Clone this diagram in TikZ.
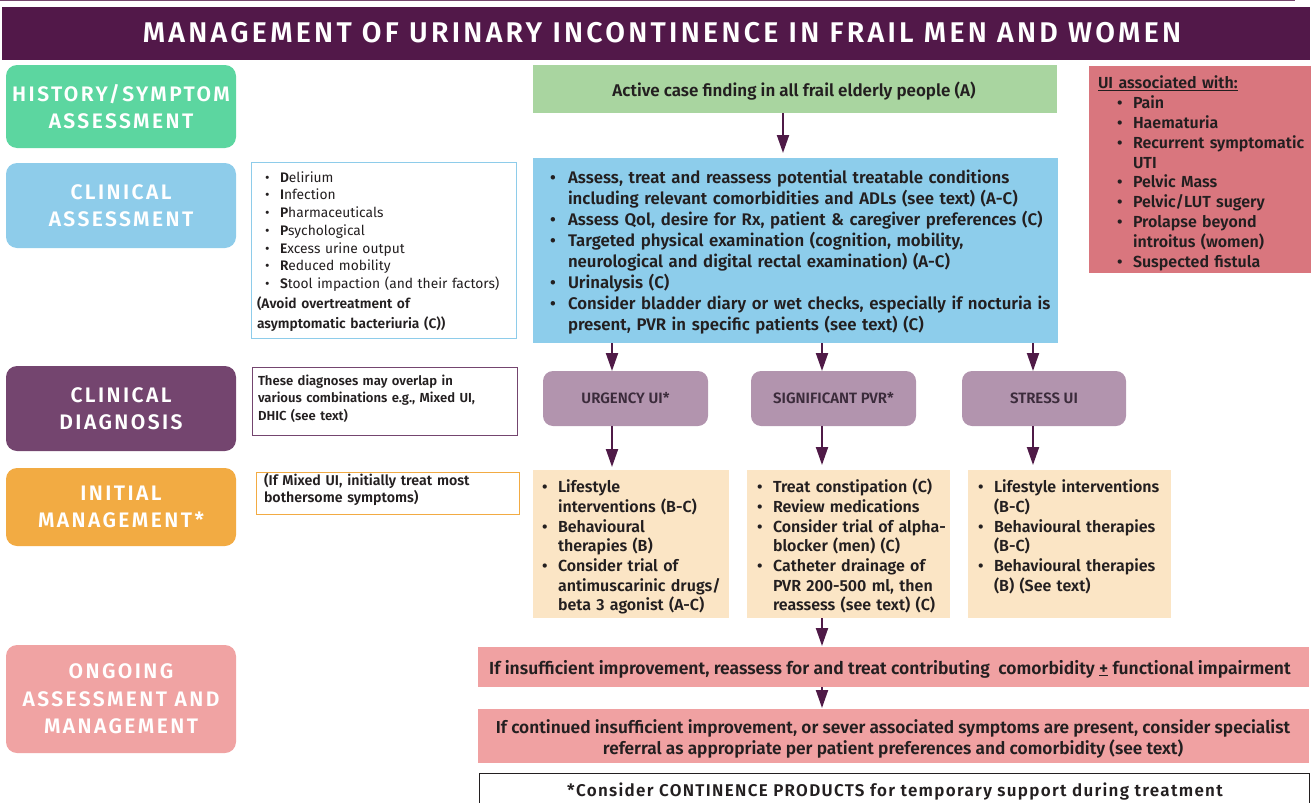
\documentclass[tikz,border=0pt]{standalone}
\usepackage{fontspec}
\setmainfont{Fira Sans}[BoldFont={Fira Sans SemiBold}]
\newfontfamily\trackT{Fira Sans}[BoldFont={Fira Sans SemiBold},LetterSpace=11.5]
\newfontfamily\trackL{Fira Sans}[BoldFont={Fira Sans SemiBold},LetterSpace=11.5]
\newfontfamily\trackF{Fira Sans}[BoldFont={Fira Sans SemiBold},LetterSpace=7.7]
\usetikzlibrary{arrows.meta}
\definecolor{titlec}{HTML}{521849}
\definecolor{histc}{HTML}{5CD6A0}
\definecolor{clinac}{HTML}{8ECCEA}
\definecolor{clindc}{HTML}{74456F}
\definecolor{initc}{HTML}{F2AB43}
\definecolor{ongoc}{HTML}{F0A3A3}
\definecolor{greenc}{HTML}{A9D5A0}
\definecolor{bluec}{HTML}{8DCDEB}
\definecolor{pinkrc}{HTML}{D9767E}
\definecolor{diagc}{HTML}{B294AE}
\definecolor{beigec}{HTML}{FBE5C5}
\definecolor{rowc}{HTML}{F0A1A2}
\definecolor{txtc}{HTML}{231F20}
\definecolor{diagtxt}{HTML}{3B2B3B}
\definecolor{arrc}{HTML}{4F1A47}
\newlength{\bulw}
\newenvironment{blist}[2]{\begin{list}{\textbullet}{\settowidth{\bulw}{\textbullet}%
  \setlength{\labelwidth}{\bulw}\setlength{\leftmargin}{#2}%
  \setlength{\labelsep}{\dimexpr #2-#1-\bulw\relax}%
  \setlength{\itemsep}{0pt}\setlength{\parsep}{0pt}\setlength{\topsep}{0pt}%
  \setlength{\partopsep}{0pt}\setlength{\itemindent}{0pt}\setlength{\rightmargin}{0pt}}}{\end{list}}
\tikzset{
  box/.style={inner sep=0pt, outer sep=0pt},
  label/.style={box, rounded corners=11pt, text=white, align=center,
    minimum width=230pt, font=\trackL\bfseries\fontsize{21}{27.5}\selectfont},
  diag/.style={box, fill=diagc, rounded corners=10pt, minimum width=165pt, minimum height=55pt,
    text=diagtxt, font=\bfseries\fontsize{15}{17}\selectfont},
  beige/.style={box, fill=beigec, minimum height=148pt},
  row/.style={box, fill=rowc, minimum width=831pt},
  rowtxt/.style={box, text=txtc, align=center},
  listtxt/.style={inner sep=0pt, outer sep=0pt, anchor=north west, text=txtc},
  arr/.style={draw=arrc, line width=2pt, -{Triangle[length=18pt,width=12pt]}},
}
\begin{document}
\begin{tikzpicture}[x=1pt,y=-1pt]
\useasboundingbox (0,0) rectangle (1312,803);
% title
\draw[titlec!80, line width=1.3pt] (0,0.7) -- (1295,0.7);
\node[box, fill=titlec, minimum width=1308pt, minimum height=53pt] (bar) at (656,33.5) {};
\node[box, text=white, font=\trackT\bfseries\fontsize{28.5}{30}\selectfont] (title) at (662,33)
  {MANAGEMENT OF URINARY INCONTINENCE IN FRAIL MEN AND WOMEN};
% left labels
\node[label, fill=histc, minimum height=83pt] (hist) at (121,106.5) {HISTORY/SYMPTOM\\ASSESSMENT};
\node[label, fill=clinac, minimum height=85pt] (clina) at (121,205.5) {CLINICAL\\ASSESSMENT};
\node[label, fill=clindc, minimum height=85pt] (clind) at (121,408.5) {CLINICAL\\DIAGNOSIS};
\node[label, fill=initc, minimum height=78pt] (initm) at (121,507) {INITIAL\\MANAGEMENT*};
\node[label, fill=ongoc, minimum height=108pt] (ongo) at (121,699) {ONGOING\\ASSESSMENT AND\\MANAGEMENT};
% green
\node[box, fill=greenc, minimum width=524pt, minimum height=48pt] (green) at (795,89) {};
\node[box, text=txtc, font=\bfseries\fontsize{17}{19}\selectfont] (greentxt) at (794,91)
  {Active case finding in all frail elderly people (A)};
% blue
\node[box, fill=bluec, minimum width=525pt, minimum height=185pt] (blue) at (795.5,250.5) {};
\node[listtxt, text width=540pt, font=\bfseries\fontsize{16.8}{21.1}\selectfont] (bluetxt) at (550,162)
{\begin{blist}{0pt}{18pt}
\item Assess, treat and reassess potential treatable conditions\newline including relevant comorbidities and ADLs (see text) (A-C)
\item Assess Qol, desire for Rx, patient \& caregiver preferences (C)
\item Targeted physical examination (cognition, mobility,\newline neurological and digital rectal examination) (A-C)
\item Urinalysis (C)
\item Consider bladder diary or wet checks, especially if nocturia is\newline present, PVR in specific patients (see text) (C)
\end{blist}};
% pink right
\node[box, fill=pinkrc, minimum width=222pt, minimum height=207pt] (pinkr) at (1200,169.5) {};
\node[listtxt, text width=212pt, font=\bfseries\fontsize{16}{19.8}\selectfont] (pinkrtxt) at (1098,76)
{\underline{UI associated with:}\par
\begin{blist}{19pt}{35pt}
\item Pain
\item Haematuria
\item Recurrent symptomatic\newline UTI
\item Pelvic Mass
\item Pelvic/LUT sugery
\item Prolapse beyond\newline introitus (women)
\item Suspected fistula
\end{blist}};
% DIPPERS box
\node[box, draw=clinac, line width=1pt, minimum width=265pt, minimum height=176pt] (dip) at (383.5,250) {};
\node[listtxt, text width=255pt, font=\fontsize{13.8}{17.7}\selectfont] (diptxt) at (257,164.5)
{\begin{blist}{8pt}{23pt}
\item \textbf{D}elirium
\item \textbf{I}nfection
\item \textbf{P}harmaceuticals
\item \textbf{P}sychological
\item \textbf{E}xcess urine output
\item \textbf{R}educed mobility
\item \textbf{S}tool impaction (and their factors)
\end{blist}
{\bfseries\fontsize{13.8}{20}\selectfont (Avoid overtreatment of\\ asymptomatic bacteriuria (C))\par}};
% diagnoses
\node[diag] (urg) at (625.5,398.5) {URGENCY UI*};
\node[diag] (pvr) at (833.5,398.5) {SIGNIFICANT PVR*};
\node[diag, minimum width=164pt] (stress) at (1044,398.5) {STRESS UI};
% notes
\node[box, draw=clindc, line width=1pt, minimum width=265pt, minimum height=68pt] (ovl) at (384.5,401) {};
\node[listtxt, text width=255pt, font=\bfseries\fontsize{13.1}{17.5}\selectfont] (ovltxt) at (258,374.5)
{These diagnoses may overlap in\\ various combinations e.g., Mixed UI,\\ DHIC (see text)};
\node[box, draw=initc, line width=1pt, minimum width=263pt, minimum height=42pt] (mix) at (387.5,493) {};
\node[listtxt, text width=250pt, font=\bfseries\fontsize{14.2}{17}\selectfont] (mixtxt) at (264,473.5)
{(If Mixed UI, initially treat most\\ bothersome symptoms)};
% beige
\node[beige, minimum width=196pt] (b1) at (631,544) {};
\node[beige, minimum width=203pt] (b2) at (848.5,544) {};
\node[beige, minimum width=203pt] (b3) at (1069.5,544) {};
\node[listtxt, text width=185pt, font=\bfseries\fontsize{16}{19.7}\selectfont] (b1txt) at (542,473)
{\begin{blist}{0pt}{16pt}
\item Lifestyle\newline interventions (B-C)
\item Behavioural\newline therapies (B)
\item Consider trial of\newline antimuscarinic drugs/\newline beta 3 agonist (A-C)
\end{blist}};
\node[listtxt, text width=195pt, font=\bfseries\fontsize{16}{19.7}\selectfont] (b2txt) at (757,473)
{\begin{blist}{0pt}{16pt}
\item Treat constipation (C)
\item Review medications
\item Consider trial of alpha-\newline blocker (men) (C)
\item Catheter drainage of\newline PVR 200-500 ml, then\newline reassess (see text) (C)
\end{blist}};
\node[listtxt, text width=195pt, font=\bfseries\fontsize{16}{19.7}\selectfont] (b3txt) at (978,473)
{\begin{blist}{0pt}{16pt}
\item Lifestyle interventions\newline (B-C)
\item Behavioural therapies\newline (B-C)
\item Behavioural therapies\newline (B) (See text)
\end{blist}};
% rows
\node[row, minimum height=40pt] (p1) at (893.5,667) {};
\node[rowtxt, font=\bfseries\fontsize{17.5}{20}\selectfont] (p1txt) at (890,669)
{If insufficient improvement, reassess for and treat contributing\ \ comorbidity \underline{+} functional impairment};
\node[row, minimum height=54pt] (p2) at (893.5,736) {};
\node[rowtxt, font=\bfseries\fontsize{17.3}{20.5}\selectfont] (p2txt) at (893,739)
{If continued insufficient improvement, or sever associated symptoms are present, consider specialist\\
referral as appropriate per patient preferences and comorbidity (see text)};
\node[box, draw=txtc, line width=1pt, minimum width=830pt, minimum height=40pt] (foot) at (894,793) {};
\node[box, text=txtc, font=\trackF\bfseries\fontsize{17}{19}\selectfont] (foottxt) at (895,792)
{*Consider CONTINENCE PRODUCTS for temporary support during treatment};
% arrows
\draw[arr, shorten >=5pt] ([xshift=-12pt]green.south) -- ([xshift=-12pt]green.south |- blue.north);
\draw[arr] ([xshift=-13.5pt]urg.north |- blue.south) -- ([xshift=-13.5pt]urg.north);
\draw[arr] ([xshift=-11.5pt]pvr.north |- blue.south) -- ([xshift=-11.5pt]pvr.north);
\draw[arr] ([xshift=-11pt]stress.north |- blue.south) -- ([xshift=-11pt]stress.north);
\draw[arr, shorten >=3pt] ([xshift=-13.5pt]urg.south) -- ([xshift=-13.5pt]urg.south |- b1.north);
\draw[arr, shorten >=5pt] ([xshift=-11.5pt]pvr.south) -- ([xshift=-11.5pt]pvr.south |- b2.north);
\draw[arr, shorten >=5pt] ([xshift=-11pt]stress.south) -- ([xshift=-11pt]stress.south |- b3.north);
\draw[arr, shorten >=1pt] ([xshift=-26.5pt]b2.south) -- ([xshift=-26.5pt]b2.south |- p1.north);
\draw[arr, shorten >=1pt] ([xshift=-26.5pt]b2.south |- p1.south) -- ([xshift=-26.5pt]b2.south |- p2.north);
\end{tikzpicture}
\end{document}
